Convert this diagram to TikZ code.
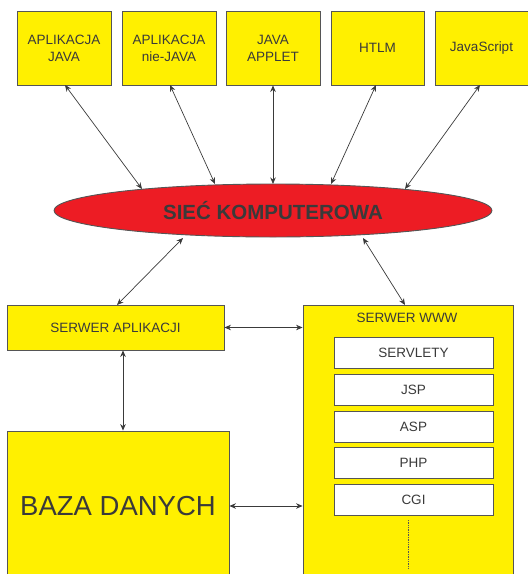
\documentclass[tikz,border=0pt]{standalone}
\usepackage{fontspec}
\setmainfont{Liberation Sans}
\usetikzlibrary{shapes.geometric,arrows.meta}
\definecolor{boxyellow}{HTML}{FFF000}
\definecolor{netred}{HTML}{ED1C24}
\definecolor{ink}{HTML}{3A3A3A}
\definecolor{edge}{HTML}{555555}
\tikzset{
  ybox/.style={draw=edge, line width=0.9pt, fill=boxyellow, text=ink, inner sep=0pt, align=center, font=\fontsize{13.5}{17}\selectfont},
  wbox/.style={draw=edge, line width=0.9pt, fill=white, text=ink, inner sep=0pt, minimum width=159pt, minimum height=31pt, font=\fontsize{13.5}{17}\selectfont},
  link/.style={draw=ink, line width=0.7pt, {Stealth[length=6.5pt,width=5.5pt]}-{Stealth[length=6.5pt,width=5.5pt]}}
}
\begin{document}
\begin{tikzpicture}[x=1pt,y=-1pt]
\useasboundingbox (0,0) rectangle (528,574);
% top boxes
\node[ybox, minimum width=94pt, minimum height=74pt] (b1) at (64,48) {APLIKACJA\\JAVA};
\node[ybox, minimum width=94pt, minimum height=74pt] (b2) at (169,48) {APLIKACJA\\nie-JAVA};
\node[ybox, minimum width=94pt, minimum height=74pt] (b3) at (273,48) {JAVA\\APPLET};
\node[ybox, minimum width=93pt, minimum height=74pt] (b4) at (377.5,48) {HTLM};
\node[ybox, minimum width=93pt, minimum height=74pt] (b5) at (481.5,48) {JavaScript};
% network ellipse
\node[ellipse, draw=edge, line width=0.9pt, fill=netred, text=ink, minimum width=438pt, minimum height=53pt, inner sep=0pt, font=\fontsize{20.5}{24}\selectfont\bfseries] (net) at (273,210.5) {SIEĆ KOMPUTEROWA};
% servers
\node[ybox, minimum width=217pt, minimum height=45pt] (app) at (115.5,327.5) {SERWER APLIKACJI};
\node[ybox, minimum width=210pt, minimum height=272pt] (www) at (408,441.5) {};
\node[text=ink, font=\fontsize{13.5}{17}\selectfont] (wwwlabel) at (407,318) {SERWER WWW};
\node[wbox] (s1) at (413.5,352.5) {SERVLETY};
\node[wbox] (s2) at (413.5,389.5) {JSP};
\node[wbox] (s3) at (413.5,426.5) {ASP};
\node[wbox] (s4) at (413.5,463) {PHP};
\node[wbox] (s5) at (413.5,499.5) {CGI};
\coordinate (dotA) at (408,520);
\coordinate (dotB) at (408,568);
\draw[edge, line width=0.7pt, densely dotted] (dotA) -- (dotB);
% database
\node[ybox, minimum width=222pt, minimum height=150pt, font=\fontsize{27.5}{32}\selectfont] (db) at (118,506) {BAZA DANYCH};
% connector end points on the ellipse and boxes
\coordinate (t1) at (65,85);
\coordinate (t2) at (170,85);
\coordinate (t4) at (376,85);
\coordinate (t5) at (480,85);
\coordinate (e1) at (142,189);
\coordinate (e2) at (215,184);
\coordinate (e3) at (273,184);
\coordinate (e4) at (331,184);
\coordinate (e5) at (405,189);
\coordinate (e6) at (183,238);
\coordinate (e7) at (363,238);
\coordinate (a1) at (117,305);
\coordinate (w1) at (405,305);
\draw[link] (t1) -- (e1);
\draw[link] (t2) -- (e2);
\draw[link] (b3.south) -- (e3);
\draw[link] (t4) -- (e4);
\draw[link] (t5) -- (e5);
\draw[link] (e6) -- (a1);
\draw[link] (e7) -- (w1);
\draw[link] (app.east) -- (app.east -| www.west);
\draw[link] (app.south -| 123,0) -- (db.north -| 123,0);
\draw[link] (db.east) -- (db.east -| www.west);
\end{tikzpicture}
\end{document}
